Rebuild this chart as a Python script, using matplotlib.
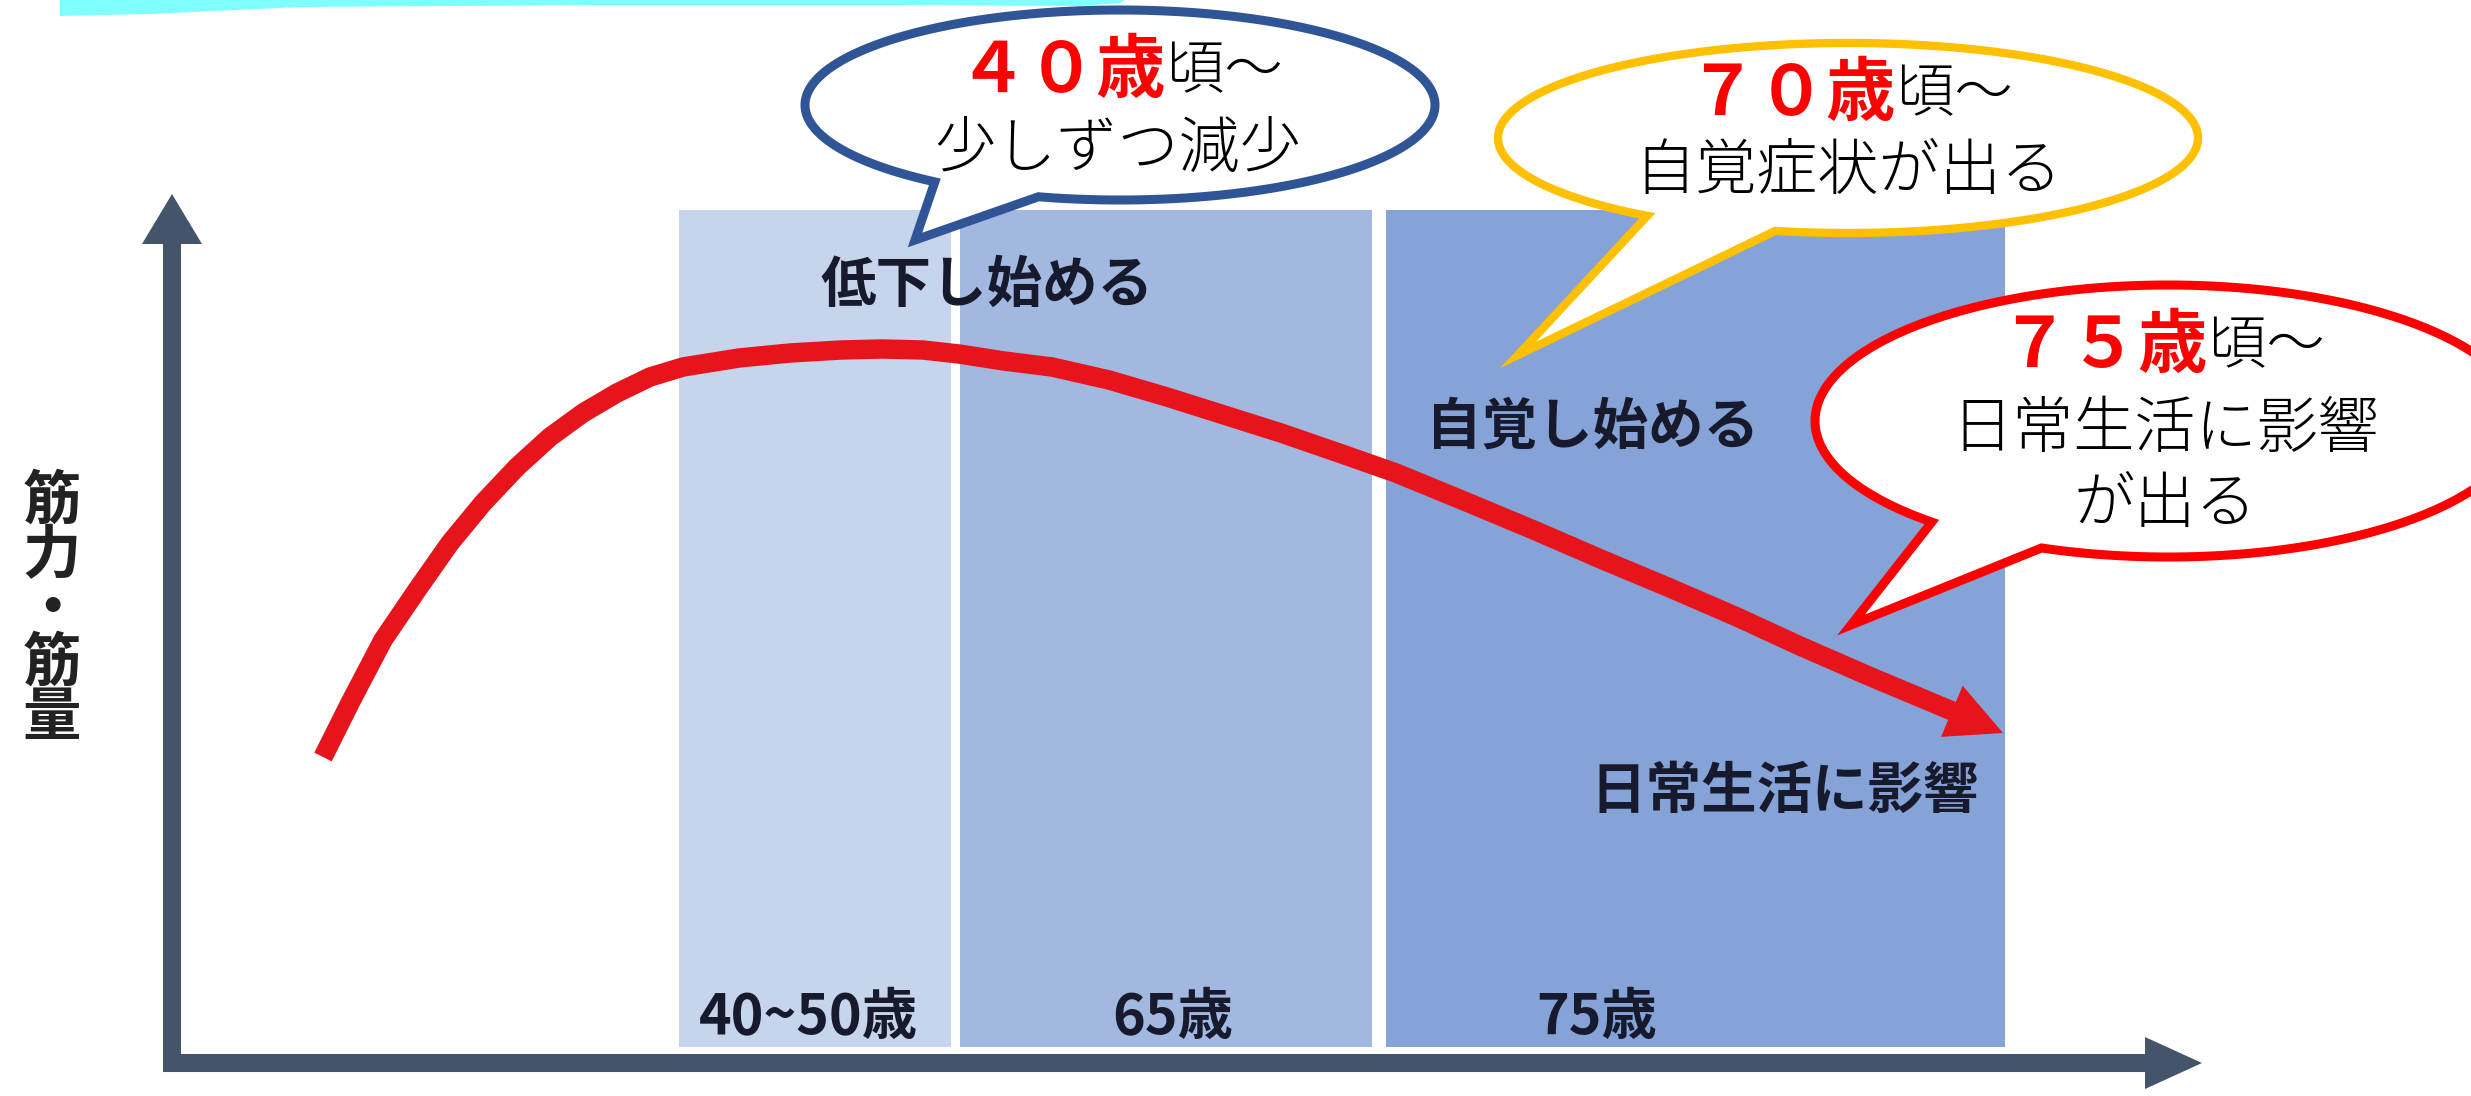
import numpy as np
import matplotlib
matplotlib.use("Agg")
import matplotlib.pyplot as plt
from matplotlib.patches import Polygon, Rectangle

plt.rcParams['font.family'] = ['Noto Sans CJK JP', 'DejaVu Sans']

# --- data (picture pixel space, y grows downwards) ---
W, H = 2471, 1096

# age bands
band_left = [679, 960, 1386]
band_right = [951, 1372, 2005]
band_top = 210
band_bottom = 1047
band_colors = ['#C6D4EC', '#A2B8E0', '#86A3D8']
band_ages = ['40~50歳', '65歳', '75歳']
age_x = [808, 1173, 1597]
age_y = 1018

# stage labels inside bands
stage_labels = ['低下し始める', '自覚し始める', '日常生活に影響']
stage_x = [987, 1593, 1785]
stage_y = [286, 428, 792]

# muscle strength curve (last point = arrow tip)
curve_x = [323, 350, 383, 417, 450, 483, 517, 550, 583, 617, 650, 683, 739, 790,
           841, 882, 923, 959, 1004, 1052, 1109, 1167, 1224, 1281, 1339, 1396,
           1469, 1536, 1603, 1670, 1737, 1800, 1871, 1957, 2003]
curve_y = [757, 703, 640, 590, 543, 503, 467, 437, 413, 393, 377, 367, 358, 353,
           350, 349, 350, 354, 361, 367, 380, 397, 415, 433, 453, 473,
           503, 531, 560, 588, 617, 646, 677, 713, 733]

# speech bubbles: centre, half axes, tail base angles, tail tip
bubbles = [
    dict(c=(1120, 105), ab=(315, 95), ang=(105, 126), tip=(915, 240), ec='#2F5597', lw=6.5,
         red='４０歳', black='頃～', split=1166, y1=72, lines=['少しずつ減少'], ly=[150], lx=1118),
    dict(c=(1848, 138), ab=(350, 95), ang=(102, 125), tip=(1518, 355), ec='#FFC000', lw=6,
         red='７０歳', black='頃～', split=1896, y1=95, lines=['自覚症状が出る'], ly=[172], lx=1848),
    dict(c=(2168, 421), ab=(353, 136), ang=(111, 132), tip=(1851, 625), ec='#FF0000', lw=6.5,
         red='７５歳', black='頃～', split=2208, y1=347, lines=['日常生活に影響', 'が出る'],
         ly=[430, 505], lx=2165),
]

axis_color = '#44546A'
curve_color = '#E8141B'
text_dark = '#161A2C'

fig = plt.figure(figsize=(W / 100, H / 100), dpi=100)
ax = fig.add_axes([0, 0, 1, 1])
ax.set_xlim(0, W)
ax.set_ylim(H, 0)
ax.axis('off')

# cyan strip at the very top
cyan_x = [60, 60, 150, 300, 600, 900, 1080, 1120, 1125]
cyan_y = [0, 16, 14, 7, 5, 5, 6, 3, 0]
ax.add_patch(Polygon(np.column_stack([cyan_x, cyan_y]), closed=True,
                     facecolor='#80FFFF', edgecolor='none'))

# bands
for l, r, col in zip(band_left, band_right, band_colors):
    ax.add_patch(Rectangle((l, band_top), r - l, band_bottom - band_top,
                           facecolor=col, edgecolor='none', zorder=1))

# axes arrows
ax.plot([172, 172], [1072, 238], color=axis_color, lw=13, solid_capstyle='butt', zorder=2)
ax.add_patch(Polygon([(172, 194), (142, 244), (202, 244)], closed=True,
                     facecolor=axis_color, edgecolor='none', zorder=2))
ax.plot([163, 2150], [1063, 1063], color=axis_color, lw=13, solid_capstyle='butt', zorder=2)
ax.add_patch(Polygon([(2202, 1063), (2145, 1037), (2145, 1089)], closed=True,
                     facecolor=axis_color, edgecolor='none', zorder=2))

# y label
ax.text(52, 610, '筋\n力\n・\n筋\n量', fontsize=42, fontweight='bold', color='#222222',
        ha='center', va='center', linespacing=0.875, zorder=3)

# band labels
for s, x, y in zip(stage_labels, stage_x, stage_y):
    ax.text(x, y, s, fontsize=40, fontweight='bold', color=text_dark,
            ha='center', va='center', zorder=3)
for s, x in zip(band_ages, age_x):
    ax.text(x, age_y, s, fontsize=40, fontweight='bold', color=text_dark,
            ha='center', va='center', zorder=3)

# red curve with arrow head
ax.plot(curve_x[:-1], curve_y[:-1], color=curve_color, lw=14,
        solid_capstyle='butt', solid_joinstyle='round', zorder=4)
ax.annotate('', xy=(curve_x[-1], curve_y[-1]), xytext=(curve_x[-3], curve_y[-3]),
            arrowprops=dict(arrowstyle='-|>,head_length=1.0,head_width=0.5',
                            mutation_scale=40, color=curve_color, lw=0,
                            shrinkA=0, shrinkB=0), zorder=4)

# speech bubbles
for b in bubbles:
    cx, cy = b['c']
    a, bb = b['ab']
    t1, t2 = b['ang']
    th = np.radians(np.linspace(t2, t1 + 360, 300))
    pts = np.column_stack([cx + a * np.cos(th), cy + bb * np.sin(th)])
    pts = np.vstack([pts, [b['tip']]])
    ax.add_patch(Polygon(pts, closed=True, facecolor='white', edgecolor=b['ec'],
                         lw=b['lw'], joinstyle='miter', zorder=6))
    ax.text(b['split'], b['y1'], b['red'], fontsize=50, fontweight='bold', color='#FF0000',
            ha='right', va='center', zorder=7)
    ax.text(b['split'], b['y1'], b['black'], fontsize=42, fontweight='light', color='black',
            ha='left', va='center', zorder=7)
    for s, y in zip(b['lines'], b['ly']):
        ax.text(b['lx'], y, s, fontsize=44, fontweight='light', color='black',
                ha='center', va='center', zorder=7)

fig.savefig('out.png', dpi=100)
